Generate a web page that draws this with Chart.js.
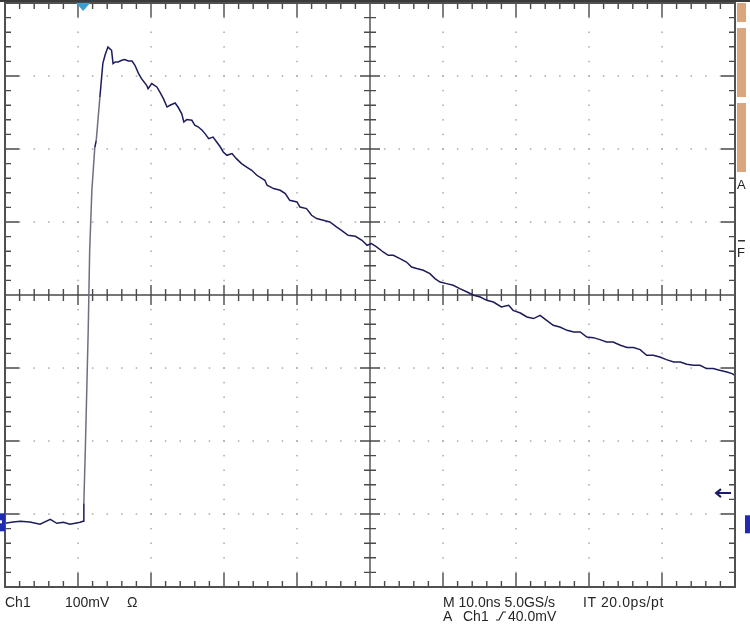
<!DOCTYPE html>
<html>
<head>
<meta charset="utf-8">
<title>Ch1 pulse</title>
<script src="https://cdn.jsdelivr.net/npm/chart.js@4.4.1/dist/chart.umd.min.js"></script>
<style>
  body { margin: 0; background: #fff; }
  #wrap { position: relative; width: 750px; height: 626px; overflow: hidden; }
  #scope { position: absolute; left: 0; top: 0; }
  .lbl { position: absolute; font: 14px 'Liberation Sans', Arial, sans-serif; line-height: 14px; color: #262626; white-space: pre; }
</style>
</head>
<body>
<div id="wrap">
  <canvas id="scope" width="750" height="626"></canvas>
  <span class="lbl" style="left:5px;top:595px">Ch1</span>
  <span class="lbl" style="left:65px;top:595px">100mV</span>
  <span class="lbl" style="left:127px;top:595px">Ω</span>
  <span class="lbl" style="left:443px;top:595px">M 10.0ns 5.0GS/s</span>
  <span class="lbl" style="left:583px;top:595px;letter-spacing:0.6px">IT 20.0ps/pt</span>
  <span class="lbl" style="left:443px;top:609px">A</span>
  <span class="lbl" style="left:463px;top:609px">Ch1</span>
  <span class="lbl" style="left:508px;top:609px">40.0mV</span>
  <span class="lbl" style="left:737px;top:178px;font-size:13px">A</span>
  <span class="lbl" style="left:737px;top:246px;font-size:13px">F</span>
</div>
<script>
// time axis: 10 ns/div, 10 divisions
var timeNs = [0, 1.1, 2.1, 3.4, 4.8, 6.2, 7.1, 8.0, 8.9, 10.3,
  10.7, 10.8, 11.0, 11.4, 11.6, 11.9, 12.3, 12.5, 13.0, 13.4, 13.7, 14.1, 14.3, 14.6, 14.8,
  15.1, 15.5, 16.0, 16.4, 16.9, 17.4, 17.8, 18.3, 18.7, 19.4, 19.6, 20.1, 20.8, 21.2,
  21.7, 22.2, 22.6, 23.3, 23.7, 24.2, 24.5, 24.9, 25.6, 26.0, 26.5, 27.0, 27.4, 27.9,
  28.5, 29.0, 29.5, 29.9, 30.4, 31.1, 31.7, 32.4, 33.1, 33.8, 34.5, 35.6, 35.9, 36.8,
  37.7, 38.4, 39.0, 40.0, 40.4, 41.3, 42.0, 42.7, 43.6, 44.5, 45.4, 46.1, 47.0, 48.0,
  48.9, 49.6, 50.2, 50.9, 51.8, 52.5, 53.2, 54.1, 55.0, 55.7, 56.4, 57.3, 58.2, 58.9,
  59.6, 60.5, 61.4, 62.3, 63.3, 64.2, 65.1, 66.0, 66.9, 68.0, 69.0, 69.6, 70.6, 71.5,
  72.4, 73.3, 74.2, 75.1, 76.0, 77.0, 77.9, 78.8, 79.7, 80.6, 81.5, 82.4, 83.3, 84.3,
  85.2, 86.1, 87.0, 87.9, 88.8, 89.7, 90.6, 91.6, 92.5, 93.4, 94.3, 95.2, 96.1, 97.0,
  97.9, 98.9, 99.6, 100];
// Ch1 voltage, 100 mV/div, relative to the ground marker
var voltageMv = [-2.7, -1.0, 0, -1.0, -4.1, 2.7, -2.7, -1.4, -4.1, -1.4,
  0, 24.7, 97.3, 261.6, 371.2, 453.4, 511.9, 521.9, 581.2, 627.0, 638.4, 649.7, 647.9, 645.2, 627.0,
  629.2, 629.2, 631.5, 632.5, 630.5, 630.5, 624.7, 613.3, 606.4, 597.3, 592.7, 599.6, 595.0, 588.1,
  579.0, 567.5, 569.9, 573.0, 567.5, 558.5, 547.0, 550.3, 549.3, 542.5, 540.1, 535.6, 531.1, 524.2,
  526.4, 519.6, 512.7, 505.9, 501.4, 503.7, 496.8, 490.0, 485.3, 480.8, 474.0, 467.1, 460.3, 455.8,
  453.4, 448.9, 439.7, 437.4, 430.5, 428.4, 419.2, 414.7, 412.3, 410.0, 403.2, 398.6, 391.8, 390.4,
  384.9, 378.1, 380.4, 375.8, 368.9, 364.4, 364.4, 359.9, 355.2, 348.4, 346.2, 343.8, 339.3, 332.5,
  327.8, 325.6, 323.3, 318.8, 314.1, 309.6, 307.3, 302.7, 300.4, 293.6, 295.9, 289.0, 285.3, 279.9,
  277.7, 282.2, 275.3, 268.5, 266.2, 261.6, 259.3, 259.3, 252.5, 251.6, 248.9, 245.6, 245.6, 241.1,
  238.0, 238.0, 235.2, 227.4, 227.4, 225.1, 221.5, 218.2, 218.2, 215.1, 213.7, 213.7, 209.2, 209.2,
  206.8, 204.5, 202.3, 200.0];

var xMin = 0, xMax = 100, xDiv = 10;
var yMin = -90, yMax = 710, yDiv = 100;

var points = timeNs.map(function (t, i) { return { x: t, y: voltageMv[i] }; });

// graticule: dotted grid, centre cross and edge ticks
var graticule = {
  id: 'graticule',
  beforeDatasetsDraw: function (chart) {
    var c = chart.ctx, a = chart.chartArea;
    var xs = chart.scales.x, ys = chart.scales.y;
    var nx = (xMax - xMin) / xDiv, ny = (yMax - yMin) / yDiv;
    var cx = xs.getPixelForValue((xMin + xMax) / 2);
    var cy = ys.getPixelForValue((yMin + yMax) / 2);
    c.save();
    c.fillStyle = '#a8a8a8';
    for (var i = 1; i < nx; i++) {
      var px = xs.getPixelForValue(xMin + i * xDiv);
      if (Math.abs(px - cx) < 1) continue;
      for (var k = 1; k < ny * 5; k++) {
        var py = ys.getPixelForValue(yMin + k * yDiv / 5);
        c.fillRect(px - 0.7, py - 0.7, 1.5, 1.5);
      }
    }
    for (var j = 1; j < ny; j++) {
      var py2 = ys.getPixelForValue(yMin + j * yDiv);
      if (Math.abs(py2 - cy) < 1) continue;
      for (var m = 1; m < nx * 5; m++) {
        var px2 = xs.getPixelForValue(xMin + m * xDiv / 5);
        c.fillRect(px2 - 0.7, py2 - 0.7, 1.5, 1.5);
      }
    }
    c.strokeStyle = '#4a4a4a';
    c.lineWidth = 1.4;
    c.beginPath();
    c.moveTo(cx, a.top); c.lineTo(cx, a.bottom);
    c.moveTo(a.left, cy); c.lineTo(a.right, cy);
    // ticks along the centre lines and the frame
    for (var q = 1; q < nx * 5; q++) {
      var tx = xs.getPixelForValue(xMin + q * xDiv / 5);
      var big = q % 5 === 0;
      var h = big ? 10 : 6, e = big ? 14 : 6;
      c.moveTo(tx, cy - h); c.lineTo(tx, cy + h);
      c.moveTo(tx, a.top); c.lineTo(tx, a.top + e);
      c.moveTo(tx, a.bottom); c.lineTo(tx, a.bottom - e);
    }
    for (var r = 1; r < ny * 5; r++) {
      var ty = ys.getPixelForValue(yMin + r * yDiv / 5);
      var big2 = r % 5 === 0;
      var h2 = big2 ? 10 : 6, e2 = big2 ? 14 : 6;
      c.moveTo(cx - h2, ty); c.lineTo(cx + h2, ty);
      c.moveTo(a.left, ty); c.lineTo(a.left + e2, ty);
      c.moveTo(a.right, ty); c.lineTo(a.right - e2, ty);
    }
    c.stroke();
    c.restore();
  },
  afterDraw: function (chart) {
    var c = chart.ctx, a = chart.chartArea;
    var xs = chart.scales.x, ys = chart.scales.y;
    c.save();
    c.fillStyle = '#3b3b3b';
    c.fillRect(0, 0, chart.width, 2);
    c.strokeStyle = '#505050';
    c.lineWidth = 2;
    c.strokeRect(a.left, a.top, a.right - a.left, a.bottom - a.top);
    // trigger position marker
    var trig = xs.getPixelForValue(timeNs[10]);
    c.fillStyle = '#3a9fd2';
    c.beginPath();
    c.moveTo(trig - 7, a.top); c.lineTo(trig + 7, a.top); c.lineTo(trig, a.top + 8);
    c.closePath(); c.fill();
    // ground markers
    var g = ys.getPixelForValue(0);
    c.fillStyle = '#1f2bb0';
    c.fillRect(0, g - 8, 5, 18);
    c.fillRect(745, g - 6, 5, 18);
    c.fillStyle = '#ffffff';
    c.fillRect(0, g - 1, 2, 3);
    // trigger level arrow
    var lvl = ys.getPixelForValue(40) + 1;
    c.strokeStyle = '#1b1b66';
    c.lineWidth = 2;
    c.beginPath();
    c.moveTo(731, lvl); c.lineTo(717, lvl);
    c.moveTo(721, lvl - 4); c.lineTo(716, lvl); c.lineTo(721, lvl + 4);
    c.stroke();
    // side bars
    c.fillStyle = '#d9a67d';
    c.fillRect(737, 3, 9, 19);
    c.fillRect(737, 28, 9, 69);
    c.fillRect(737, 103, 9, 69);
    c.fillStyle = '#333';
    c.fillRect(738, 240, 7, 1.5);
    // slope symbol
    c.strokeStyle = '#262626';
    c.lineWidth = 1.2;
    c.beginPath();
    c.moveTo(496, 620); c.lineTo(499, 620); c.lineTo(503, 612); c.lineTo(506, 612);
    c.stroke();
    c.restore();
  }
};

new Chart(document.getElementById('scope'), {
  type: 'line',
  data: {
    datasets: [{
      label: 'Ch1',
      data: points,
      borderColor: '#1c1c5c',
      borderWidth: 1.5,
      pointRadius: 0,
      tension: 0,
      fill: false,
      segment: {
        borderColor: function (ctx) {
          return Math.abs(ctx.p1.parsed.y - ctx.p0.parsed.y) > 50 ? '#6f6f80' : undefined;
        }
      }
    }]
  },
  options: {
    responsive: false,
    animation: false,
    events: [],
    layout: { padding: { left: 5, right: 15, top: 3, bottom: 39 } },
    plugins: { legend: { display: false }, tooltip: { enabled: false } },
    scales: {
      x: { type: 'linear', min: xMin, max: xMax, display: false },
      y: { min: yMin, max: yMax, display: false }
    }
  },
  plugins: [graticule]
});
</script>
</body>
</html>
